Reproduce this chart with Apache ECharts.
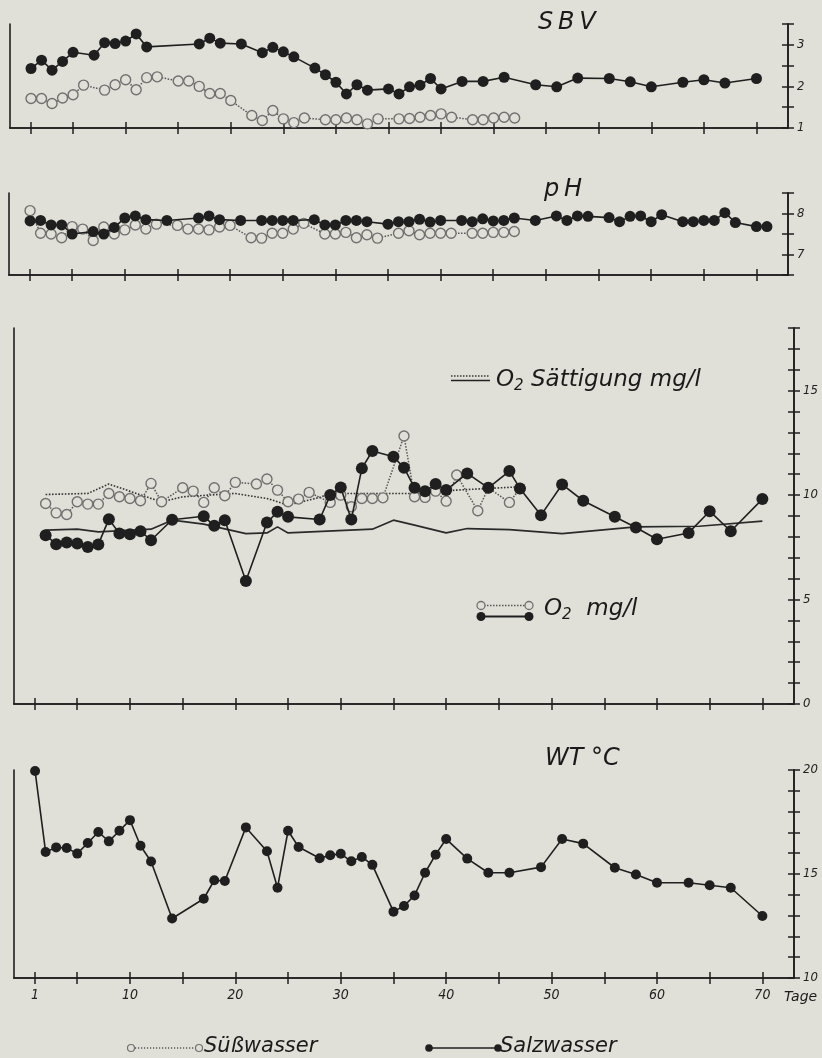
<!DOCTYPE html>
<html><head><meta charset="utf-8">
<script src="https://cdn.jsdelivr.net/npm/echarts@6/dist/echarts.min.js"></script>
<style>html,body{margin:0;padding:0;background:#e0e0d8;}#c{width:822px;height:1058px;}</style>
</head><body><div id="c"></div>
<script>
// ---- data (day, value) ----
const xTickDays = [1,5,10,15,20,25,30,35,40,45,50,55,60,65,70];
const xLabelDays = [1,10,20,30,40,50,60,70];

const sbvSaltDays = [1,2,3,4,5,7,8,9,10,11,12,17,18,19,21,23,24,25,26,28,29,30,31,32,33,35,36,37,38,39,40,42,44,46,49,51,53,56,58,60,63,65,67,70];
const sbvSaltVals = [2.43,2.63,2.39,2.60,2.82,2.75,3.05,3.03,3.09,3.26,2.95,3.02,3.16,3.04,3.02,2.81,2.94,2.83,2.71,2.44,2.28,2.10,1.82,2.04,1.91,1.94,1.82,1.99,2.03,2.19,1.94,2.12,2.12,2.22,2.04,1.99,2.20,2.19,2.11,1.99,2.10,2.16,2.08,2.19];
const sbvFreshDays = [1,2,3,4,5,6,8,9,10,11,12,13,15,16,17,18,19,20,22,23,24,25,26,27,29,30,31,32,33,34,36,37,38,39,40,41,43,44,45,46,47];
const sbvFreshVals = [1.71,1.71,1.59,1.72,1.80,2.03,1.91,2.04,2.16,1.92,2.21,2.23,2.13,2.13,2.00,1.83,1.83,1.66,1.30,1.18,1.42,1.22,1.13,1.24,1.20,1.20,1.24,1.20,1.10,1.22,1.22,1.23,1.26,1.30,1.34,1.26,1.20,1.20,1.24,1.26,1.24];

const phSaltDays = [1,2,3,4,5,7,8,9,10,11,12,14,17,18,19,21,23,24,25,26,28,29,30,31,32,33,35,36,37,38,39,40,42,43,44,45,46,47,49,51,52,53,54,56,57,58,59,60,61,63,64,65,66,67,68,70,71];
const phSaltVals = [7.82,7.83,7.72,7.72,7.50,7.56,7.50,7.66,7.89,7.94,7.85,7.83,7.89,7.94,7.85,7.83,7.83,7.83,7.83,7.83,7.85,7.72,7.72,7.83,7.83,7.80,7.74,7.80,7.80,7.86,7.79,7.83,7.83,7.80,7.87,7.82,7.83,7.89,7.83,7.94,7.83,7.94,7.93,7.90,7.80,7.93,7.94,7.80,7.97,7.80,7.80,7.83,7.83,8.02,7.78,7.68,7.68];
const phFreshDays = [1,2,3,4,5,6,7,8,9,10,11,12,13,15,16,17,18,19,20,22,23,24,25,26,27,29,30,31,32,33,34,36,37,38,39,40,41,43,44,45,46,47];
const phFreshVals = [8.07,7.52,7.50,7.41,7.68,7.62,7.34,7.67,7.50,7.60,7.72,7.62,7.74,7.71,7.62,7.62,7.60,7.67,7.71,7.41,7.40,7.52,7.52,7.62,7.76,7.50,7.50,7.54,7.41,7.48,7.40,7.52,7.58,7.48,7.52,7.52,7.52,7.52,7.52,7.54,7.54,7.56];

const o2SaltDays = [2,3,4,5,6,7,8,9,10,11,12,14,17,18,19,21,23,24,25,28,29,30,31,32,33,35,36,37,38,39,40,42,44,46,47,49,51,53,56,58,60,63,65,67,70];
const o2SaltVals = [8.08,7.65,7.73,7.68,7.52,7.64,8.85,8.16,8.13,8.27,7.84,8.82,8.99,8.53,8.80,5.89,8.69,9.20,8.96,8.83,10.0,10.37,8.83,11.28,12.11,11.84,11.31,10.35,10.19,10.53,10.24,11.04,10.35,11.15,10.32,9.04,10.51,9.73,8.96,8.45,7.89,8.19,9.23,8.27,9.81];
const o2FreshDays = [2,3,4,5,6,7,8,9,10,11,12,13,15,16,17,18,19,20,22,23,24,25,26,27,29,30,31,32,33,34,36,37,38,39,40,41,43,44,46,47];
const o2FreshVals = [9.60,9.15,9.07,9.68,9.57,9.57,10.08,9.92,9.84,9.73,10.56,9.68,10.35,10.19,9.65,10.35,9.97,10.61,10.53,10.77,10.24,9.68,9.81,10.13,9.65,10.0,9.44,9.84,9.84,9.87,12.83,9.92,9.89,10.19,9.71,10.96,9.25,10.35,9.65,10.32];
const satFreshDays = [2,6,8,12,13,15,20,23,25,28,29,37,41,47];
const satFreshVals = [10.03,10.08,10.53,9.84,9.68,9.92,10.08,9.84,9.52,9.89,10.08,10.08,10.24,10.40];
const satSaltDays = [2,5,7,12,14,17,21,23,24,25,33,35,37,40,42,46,51,58,64,70];
const satSaltVals = [8.32,8.37,8.24,8.37,8.80,8.61,8.16,8.19,8.48,8.19,8.37,8.80,8.56,8.19,8.40,8.35,8.16,8.48,8.51,8.75];

const wtDays = [1,2,3,4,5,6,7,8,9,10,11,12,14,17,18,19,21,23,24,25,26,28,29,30,31,32,33,35,36,37,38,39,40,42,44,46,49,51,53,56,58,60,63,65,67,70];
const wtVals = [19.95,16.06,16.28,16.25,15.98,16.49,17.02,16.57,17.08,17.59,16.36,15.60,12.86,13.81,14.70,14.66,17.24,16.09,14.34,17.08,16.30,15.76,15.90,15.97,15.61,15.82,15.44,13.19,13.46,13.97,15.06,15.93,16.68,15.74,15.06,15.06,15.33,16.68,16.46,15.30,14.98,14.58,14.58,14.46,14.34,12.98];

// ---- styling ----
const BG = '#e0e0d8', INK = '#1f1f1f', GREY = '#707070';
const FONT = "'DejaVu Sans', sans-serif";
const LFONT = "'DejaVu Sans Condensed', 'DejaVu Sans', sans-serif";
const zip = (a, b) => a.map((d, i) => [d, b[i]]);

const panels = [
  {left:10, right:34, top:24, height:104, min:1, max:3.5, interval:0.5, lab:v=>Number.isInteger(v)?String(v):''},
  {left:9, right:34, top:193, height:82, min:6.5, max:8.5, interval:0.5, lab:v=>Number.isInteger(v)?String(v):''},
  {left:14, right:28, top:328, height:376, min:0, max:18, interval:1, lab:v=>v%5===0?String(v):''},
  {left:14, right:28, top:770, height:208, min:10, max:20, interval:1, lab:v=>v%5===0?String(v):''}
];
const axLine = {show:true, onZero:false, lineStyle:{color:INK, width:1.6}};
const grid = [], xAxis = [], yAxis = [];
panels.forEach((p, g) => {
  grid.push({left:p.left, right:p.right, top:p.top, height:p.height, containLabel:false});
  const last = g === 3;
  ['in','out'].forEach(k => xAxis.push({
    type:'value', gridIndex:g, min:-1, max:73, position:'bottom',
    axisLine:axLine, splitLine:{show:false},
    axisTick:{show:true, inside:k==='in', length:6, customValues:xTickDays, lineStyle:{color:INK, width:1.5}},
    axisLabel:{show:last && k==='out', customValues:xLabelDays, margin:10, fontFamily:LFONT, fontStyle:'italic', fontSize:14, color:'#222'}
  }));
  yAxis.push({type:'value', gridIndex:g, position:'left', min:p.min, max:p.max, interval:p.interval,
    axisLine:axLine, axisTick:{show:false}, axisLabel:{show:false}, splitLine:{show:false}});
  ['in','out'].forEach(k => yAxis.push({
    type:'value', gridIndex:g, position:'right', min:p.min, max:p.max, interval:p.interval,
    axisLine:axLine, splitLine:{show:false},
    axisTick:{show:true, inside:k==='in', length:6, lineStyle:{color:INK, width:1.5}},
    axisLabel:{show:k==='out', formatter:p.lab, margin:9, fontFamily:LFONT, fontStyle:'italic', fontSize:13, color:'#222', showMinLabel:true, showMaxLabel:true}
  }));
});

function salt(g, data, size) {
  return {type:'line', xAxisIndex:2*g, yAxisIndex:3*g, data, symbol:'circle', symbolSize:size||11, z:5,
    itemStyle:{color:INK}, lineStyle:{color:INK, width:1.6}, clip:false};
}
function fresh(g, data) {
  return {type:'line', xAxisIndex:2*g, yAxisIndex:3*g, data, symbol:'circle', symbolSize:10, z:3,
    itemStyle:{color:BG, borderColor:GREY, borderWidth:1.4}, lineStyle:{color:'#555', width:1.5, type:'dotted'}, clip:false};
}
function plain(g, data, type) {
  return {type:'line', xAxisIndex:2*g, yAxisIndex:3*g, data, symbol:'none', z:2,
    lineStyle:{color: type==='dotted' ? '#333' : '#2a2a2a', width: type==='dotted'?1.6:1.7, type}};
}

const series = [
  fresh(0, zip(sbvFreshDays, sbvFreshVals)),
  salt(0, zip(sbvSaltDays, sbvSaltVals)),
  fresh(1, zip(phFreshDays, phFreshVals)),
  salt(1, zip(phSaltDays, phSaltVals)),
  plain(2, zip(satFreshDays, satFreshVals), 'dotted'),
  plain(2, zip(satSaltDays, satSaltVals), 'solid'),
  fresh(2, zip(o2FreshDays, o2FreshVals)),
  salt(2, zip(o2SaltDays, o2SaltVals), 12),
  salt(3, zip(wtDays, wtVals), 10)
];

const tStyle = (txt, size) => ({text:txt, fontFamily:FONT, fontStyle:'italic', fontSize:size, fill:'#1a1a1a'});
const rich = {sub:{fontSize:15, fontFamily:FONT, fontStyle:'italic', fill:'#1a1a1a', padding:[12,0,0,0]}};
const graphic = [
  {type:'text', left:538, top:11, style:tStyle('S\u2009B\u2009V', 24)},
  {type:'text', left:544, top:178, style:tStyle('p\u2009H', 24)},
  {type:'text', left:545, top:747, style:tStyle('WT \u00B0C', 24)},
  {type:'text', left:784, top:990, style:tStyle('Tage', 14)},
  // O2 Sättigung legend
  {type:'line', shape:{x1:451, y1:376, x2:490, y2:376}, style:{stroke:'#333', lineWidth:1.4, lineDash:[1.5,1.5]}},
  {type:'line', shape:{x1:451, y1:380.5, x2:490, y2:380.5}, style:{stroke:'#222', lineWidth:1.5}},
  {type:'text', left:496, top:369, style:{text:'O{sub|2} Sättigung mg/l', rich, fontFamily:FONT, fontStyle:'italic', fontSize:23, fill:'#1a1a1a'}},
  // O2 mg/l legend
  {type:'line', shape:{x1:481, y1:605.5, x2:529, y2:605.5}, style:{stroke:'#555', lineWidth:1.4, lineDash:[1.5,1.5]}},
  {type:'line', shape:{x1:481, y1:616.5, x2:529, y2:616.5}, style:{stroke:INK, lineWidth:2}},
  {type:'circle', shape:{cx:481, cy:605.5, r:4}, style:{fill:BG, stroke:GREY, lineWidth:1.3}},
  {type:'circle', shape:{cx:529, cy:605.5, r:4}, style:{fill:BG, stroke:GREY, lineWidth:1.3}},
  {type:'circle', shape:{cx:481, cy:616.5, r:4.5}, style:{fill:INK}},
  {type:'circle', shape:{cx:529, cy:616.5, r:4.5}, style:{fill:INK}},
  {type:'text', left:544, top:598, style:{text:'O{sub|2}  mg/l', rich, fontFamily:FONT, fontStyle:'italic', fontSize:23, fill:'#1a1a1a'}},
  // bottom legend
  {type:'line', shape:{x1:135, y1:1048, x2:196, y2:1048}, style:{stroke:'#555', lineWidth:1.3, lineDash:[1.2,1.8]}},
  {type:'circle', shape:{cx:131, cy:1048, r:3.5}, style:{fill:BG, stroke:GREY, lineWidth:1.2}},
  {type:'circle', shape:{cx:199, cy:1048, r:3.5}, style:{fill:BG, stroke:GREY, lineWidth:1.2}},
  {type:'text', left:204, top:1036, style:tStyle('Süßwasser', 21)},
  {type:'line', shape:{x1:429, y1:1048, x2:497, y2:1048}, style:{stroke:INK, lineWidth:1.6}},
  {type:'circle', shape:{cx:429, cy:1048, r:3.8}, style:{fill:INK}},
  {type:'circle', shape:{cx:498, cy:1048, r:3.8}, style:{fill:INK}},
  {type:'text', left:500, top:1036, style:tStyle('Salzwasser', 21)}
];

const chart = echarts.init(document.getElementById('c'), null, {renderer:'canvas'});
chart.setOption({backgroundColor:BG, animation:false, grid, xAxis, yAxis, series, graphic});
</script></body></html>
